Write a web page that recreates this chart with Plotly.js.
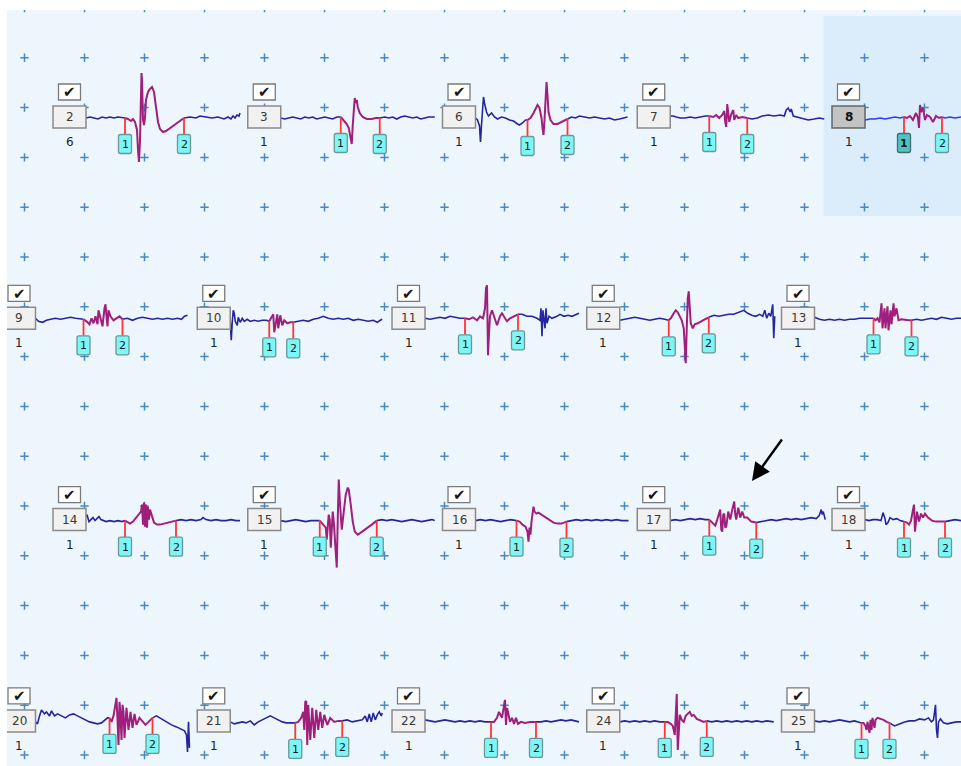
<!DOCTYPE html>
<html>
<head>
<meta charset="utf-8">
<script src="https://cdn.plot.ly/plotly-3.0.1.min.js"></script>
<style>
  html, body { margin: 0; padding: 0; background: #ffffff; }
  #chart { width: 961px; height: 766px; }
</style>
</head>
<body>
<div id="chart"></div>
<script>
// ---- Motor unit templates: id, firing count, marker samples ----
const unitIds    = [2, 3, 6, 7, 8,  9, 10, 11, 12, 13,  14, 15, 16, 17, 18,  20, 21, 22, 24, 25];
const unitCounts = [6, 1, 1, 1, 1,  1, 1, 1, 1, 1,      1, 1, 1, 1, 1,      1, 1, 1, 1, 1];
const marker1    = [39, 60, 52, 39, 39,  48, 39, 40, 49, 59,  39, 39, 41, 39, 39,  74, 65, 66, 45, 47];
const marker2    = [98, 99, 92, 77, 77,  87, 63, 93, 89, 97,  90, 96, 91, 86, 80,  117, 112, 111, 87, 75];
const markerNames = ['1', '2'];
const selectedUnit = 8;
const selectedMarker = 1;

// ---- Template waveforms: [sample, amplitude] ----
const waveU2 = [[0,0],[4,1],[8,0],[12,-1],[16,1],[20,0],[24,1],[28,0],[32,1],[36,0],[39,0],[42,-1],[45,-3],[47,-1],[49,-4],[51,-12],[52,-32],[53,-44],[54,-22],[55,28],[55.5,45],[56,38],[57,-2],[58,-7],[59,0],[60,18],[62,26],[64,29],[66,31],[68,26],[70,10],[72,-4],[74,-11],[77,-14],[80,-13],[84,-10],[89,-6],[94,-3],[98,0],[104,1],[110,0],[114,2],[120,1],[126,0],[132,1],[138,-1],[142,1],[145,-1],[147,2],[149,0],[151,3],[153,2],[154,5]];
const waveU3 = [[0,0],[4,-1],[8,0],[12,1],[16,0],[20,-1],[24,1],[28,0],[32,1],[36,-1],[40,0],[44,1],[48,0],[52,-1],[56,1],[60,1],[63,-2],[66,-6],[68,-10],[70,-20],[71,-26],[72,-7],[73,13],[74,20],[75,15],[76,18],[77,11],[79,5],[82,1],[86,-1],[91,-1],[95,0],[99,0],[104,1],[108,0],[112,1],[116,-1],[120,1],[124,2],[128,1],[132,0],[136,1],[140,-1],[144,0],[148,1],[152,1],[154,1]];
const waveU6 = [[0,0],[2,-2],[4,-8],[5,-24],[6,-7],[7,13],[8,21],[9,15],[11,6],[13,2],[16,5],[19,1],[22,-1],[26,1],[30,0],[34,-2],[38,-3],[42,-6],[44,-7],[47,-5],[50,-2],[52,-2],[55,0],[58,5],[60,10],[62,13],[64,10],[66,0],[67,-10],[68,-17],[69,-2],[70,23],[71,36],[72,23],[73,6],[75,-2],[78,-6],[82,-6],[86,-4],[89,-2],[92,-1],[96,1],[100,0],[104,2],[109,1],[114,0],[119,1],[124,0],[129,-1],[134,0],[139,-2],[144,-1],[149,0],[152,1]];
const waveU7 = [[0,2],[3,2],[6,1],[10,0],[15,0],[20,1],[25,0],[30,1],[35,2],[39,2],[43,1],[46,3],[49,0],[52,3],[54,7],[55,-4],[56,-9],[57,14],[58,6],[59,-4],[61,4],[63,8],[64,-2],[66,3],[68,0],[72,1],[77,0],[82,-1],[87,0],[92,2],[98,3],[104,2],[110,3],[114,2],[116,8],[118,10],[120,6],[121,9],[123,2],[127,1],[132,-1],[138,-2],[144,-1],[149,0],[154,-1]];
const waveU8 = [[0,-2],[5,-1],[10,-1],[15,0],[20,-1],[25,0],[30,1],[35,0],[39,1],[42,0],[45,2],[48,-2],[51,5],[53,0],[54,-10],[55,13],[56,6],[58,10],[60,-2],[62,3],[65,1],[68,-4],[71,2],[74,0],[77,1],[80,0],[85,1],[90,0],[96,1]];
const waveU9 = [[0,1],[3,-2],[7,-3],[11,-1],[15,0],[20,1],[25,0],[30,1],[35,2],[40,1],[45,0],[48,0],[51,-2],[54,-5],[56,1],[58,-4],[60,3],[62,-5],[63,9],[65,1],[67,-7],[69,11],[70,15],[71,3],[72,-7],[73,9],[75,3],[78,-1],[81,1],[84,3],[87,0],[92,1],[97,-1],[102,1],[107,2],[112,1],[117,0],[122,1],[127,0],[132,1],[137,0],[142,1],[146,0],[149,3],[152,4]];
const waveU10 = [[0,-2],[1,-21],[2,-3],[3,9],[4,6],[5,-2],[7,-6],[8,2],[10,-3],[12,1],[14,-2],[17,0],[20,-2],[24,-1],[28,-2],[32,-1],[36,-1],[39,-2],[41,1],[43,5],[44,-13],[46,3],[47,5],[48,-9],[50,4],[52,-6],[54,-1],[57,-4],[60,-3],[63,-3],[68,-2],[73,-1],[78,-2],[83,0],[88,1],[93,3],[98,1],[103,0],[108,1],[113,0],[118,1],[123,-1],[128,0],[133,-1],[138,-2],[143,-1],[147,-3],[150,-1],[152,0]];
const waveU11 = [[0,1],[5,0],[10,1],[15,2],[20,1],[25,3],[30,2],[35,1],[40,1],[44,0],[48,2],[52,-1],[55,3],[58,1],[60,11],[61,31],[62,34],[63,-36],[64,-14],[65,3],[67,9],[69,3],[72,-6],[75,3],[77,6],[80,1],[82,-2],[85,1],[87,2],[90,4],[93,5],[97,5],[102,3],[107,3],[112,1],[115,-1],[116,11],[117,-17],[118,9],[120,-9],[121,11],[122,-4],[124,3],[127,1],[132,3],[135,5],[139,3],[143,4],[147,3],[151,5],[154,6]];
const waveU12 = [[0,-1],[5,0],[10,1],[15,2],[20,1],[25,0],[30,-1],[35,0],[40,1],[45,0],[49,-1],[51,1],[54,6],[56,9],[58,7],[60,3],[62,-1],[64,-9],[65,-24],[66,-44],[67,-9],[68,21],[69,28],[70,16],[71,-4],[73,-9],[75,-5],[78,-4],[81,-2],[85,0],[89,2],[94,4],[99,3],[104,4],[109,5],[114,5],[119,7],[124,9],[128,6],[132,4],[136,3],[140,5],[143,3],[145,9],[147,1],[149,6],[151,3],[153,15],[154,-19],[155,3]];
const waveU13 = [[0,2],[5,0],[10,-1],[15,0],[20,-1],[25,0],[30,-1],[35,0],[40,0],[45,1],[50,1],[55,1],[59,1],[61,-1],[63,1],[65,-3],[67,16],[68,-9],[70,11],[71,-9],[73,13],[74,-11],[76,9],[77,-5],[79,16],[80,3],[82,11],[84,-1],[87,0],[91,-1],[94,-1],[97,-1],[102,0],[107,-1],[112,0],[117,1],[122,0],[127,2],[132,1],[137,0],[142,1],[148,1]];
const waveU14 = [[0,4],[1,6],[3,-1],[5,1],[7,3],[9,0],[11,2],[13,4],[15,1],[17,0],[20,-1],[24,0],[28,-1],[32,0],[36,-1],[39,0],[41,-1],[44,-3],[47,-1],[50,3],[53,7],[55,9],[56,16],[57,-4],[58,18],[59,-6],[60,16],[61,-7],[62,14],[63,1],[64,11],[66,3],[68,-2],[71,-4],[74,-4],[78,-3],[82,-2],[86,-1],[90,0],[95,1],[100,0],[105,1],[110,0],[115,1],[117,3],[120,1],[125,0],[130,1],[135,0],[140,0],[145,1],[150,0],[154,0]];
const waveU15 = [[0,0],[5,-1],[10,0],[15,1],[20,0],[25,-1],[30,0],[35,0],[39,0],[42,-3],[45,-7],[46,-19],[47,-7],[48,6],[49,1],[50,-27],[51,-9],[52,9],[53,-1],[55,-29],[56,-47],[57,1],[58,41],[59,21],[60,1],[61,-9],[63,9],[65,26],[67,33],[68,31],[70,16],[72,-1],[74,-11],[77,-14],[80,-12],[83,-10],[87,-7],[91,-4],[96,0],[101,1],[106,0],[111,1],[116,0],[121,-1],[126,0],[131,1],[136,0],[141,-1],[146,0],[151,1],[154,0]];
const waveU16 = [[0,0],[5,1],[10,0],[15,1],[20,0],[25,-1],[30,0],[35,1],[41,0],[44,-1],[47,-4],[50,-6],[52,-11],[53,-21],[54,-7],[55,-14],[56,-1],[57,11],[58,14],[59,9],[61,7],[63,8],[66,6],[70,4],[74,1],[78,-2],[82,-3],[86,-3],[91,-1],[96,0],[101,1],[106,0],[111,1],[116,0],[121,1],[126,0],[131,1],[136,0],[141,1],[146,0],[153,0]];
const waveU17 = [[0,0],[5,1],[10,0],[15,1],[20,2],[25,1],[30,2],[35,1],[39,1],[42,-2],[45,-5],[47,1],[49,9],[50,11],[51,-9],[52,-11],[53,6],[54,7],[55,-7],[56,-6],[58,9],[60,1],[62,11],[63,17],[64,19],[65,6],[66,1],[68,13],[70,3],[72,9],[74,3],[77,3],[81,-1],[86,-2],[91,-1],[96,0],[101,1],[106,0],[111,1],[116,2],[121,1],[126,2],[131,1],[136,2],[141,3],[146,2],[149,5],[151,11],[152,6],[153,9],[155,1]];
const waveU18 = [[0,1],[4,0],[8,1],[12,1],[16,0],[18,8],[20,2],[21,-4],[23,-2],[25,3],[28,1],[32,2],[35,0],[39,-1],[42,-2],[44,-4],[46,0],[48,11],[49,16],[50,-11],[51,1],[52,9],[54,-1],[56,7],[58,3],[60,7],[63,3],[67,0],[71,-1],[75,-1],[80,-1],[85,0],[90,1],[96,0]];
const waveU20 = [[0,0],[2,-2],[4,6],[6,12],[9,8],[11,10],[14,6],[16,11],[19,6],[22,8],[26,6],[30,4],[34,7],[38,8],[42,6],[46,4],[50,2],[54,0],[58,-1],[62,-2],[66,-1],[69,2],[72,4],[74,4],[76,0],[78,6],[80,22],[81,24],[82,2],[83,-23],[84,20],[85,7],[86,-18],[87,17],[88,10],[89,-16],[91,14],[93,-8],[95,10],[97,-6],[99,8],[101,-3],[104,4],[107,0],[110,-3],[113,0],[117,4],[121,6],[126,3],[131,0],[136,-3],[141,-5],[146,-7],[149,-9],[151,-13],[152,-30],[153,0],[154,-26]];
const waveU21 = [[0,0],[4,-2],[8,-1],[12,0],[16,-1],[20,1],[24,-3],[28,0],[32,2],[36,4],[40,6],[44,4],[48,2],[52,0],[56,-1],[60,-1],[65,-1],[68,0],[71,4],[73,10],[74,-8],[75,20],[76,21],[77,-23],[78,17],[80,-18],[82,14],[84,-16],[86,12],[88,-8],[90,10],[92,-6],[94,7],[97,-3],[100,4],[104,0],[108,1],[112,1],[117,2],[122,0],[127,1],[132,2],[135,6],[137,0],[139,8],[141,0],[143,9],[145,2],[147,7],[149,10],[151,6],[152,9]];
const waveU22 = [[0,2],[5,1],[10,0],[15,1],[20,2],[25,1],[30,0],[35,1],[40,0],[45,1],[50,0],[55,1],[60,0],[66,0],[69,0],[72,4],[74,10],[76,6],[77,4],[79,16],[80,22],[81,-3],[82,14],[83,10],[85,0],[87,4],[89,-2],[91,4],[93,-2],[96,0],[100,-1],[105,0],[111,0],[116,0],[121,1],[126,0],[131,1],[136,2],[141,1],[146,2],[150,1],[154,0]];
const waveU24 = [[0,0],[5,1],[10,0],[15,1],[20,0],[25,1],[30,0],[35,1],[40,0],[45,0],[48,0],[51,-2],[53,-4],[55,-13],[56,7],[57,28],[58,-28],[59,-6],[60,7],[62,2],[64,0],[66,6],[68,8],[70,10],[72,6],[74,7],[77,3],[81,1],[84,0],[87,1],[92,0],[97,1],[102,0],[107,1],[112,0],[117,1],[122,0],[127,1],[132,0],[137,1],[142,0],[147,1],[154,0]];
const waveU25 = [[0,1],[5,0],[10,1],[15,0],[20,1],[25,2],[30,1],[35,0],[40,1],[44,0],[47,-1],[49,-1],[51,-4],[52,-8],[53,0],[54,-6],[55,-11],[56,2],[57,-8],[58,4],[60,-6],[61,2],[63,4],[66,3],[69,2],[72,0],[75,-1],[80,-4],[85,-2],[90,0],[95,1],[100,1],[105,3],[110,2],[114,4],[117,0],[119,2],[120,12],[121,17],[122,-8],[123,-16],[124,0],[126,3],[129,-1],[133,-2],[137,-1],[142,0],[148,0]];

const waves = [waveU2, waveU3, waveU6, waveU7, waveU8,
               waveU9, waveU10, waveU11, waveU12, waveU13,
               waveU14, waveU15, waveU16, waveU17, waveU18,
               waveU20, waveU21, waveU22, waveU24, waveU25];

// ---- Page geometry (pixel-unit axes) ----
const W = 961, H = 766;
const AREA_X0 = 7, AREA_Y0 = 10;
const COLS = 5;
const colPitch = 194.75, rowPitch = 201.3;
const rowBoxLeft = [53, 2.5, 53, 2.5];
const firstBaseline = 118;
const boxW = 33, boxH = 22;
const chkW = 22, chkH = 16;
const tagW = 13, tagH = 19, tagDrop = 16.5;
const gridStepX = 60, gridStepY = 49.8, gridX0 = 24.5, gridY0 = 8;

// ---- Colours ----
const C = {
  area: '#eef6fd', highlight: '#dbecfb', grid: '#4a88c4',
  trace: '#25259d', traceSel: '#2f3cf0', seg: '#a01f7c',
  tick: '#ff3535', tagFill: '#7ff6f6', tagBorder: '#6a9797',
  tagSelFill: '#4fc3c3', tagSelBorder: '#3f6f6f',
  box: '#f1f1f1', boxBorder: '#8a8a8a', boxSel: '#c3c3c3', boxSelBorder: '#666666',
  text: '#3a3a3a'
};
const FONT = 'DejaVu Sans, Verdana, sans-serif';

function rr(x0, y0, x1, y1, r) {
  return `M${x0 + r},${y0} L${x1 - r},${y0} Q${x1},${y0} ${x1},${y0 + r} L${x1},${y1 - r} Q${x1},${y1} ${x1 - r},${y1} L${x0 + r},${y1} Q${x0},${y1} ${x0},${y1 - r} L${x0},${y0 + r} Q${x0},${y0} ${x0 + r},${y0} Z`;
}

const traces = [];
const shapes = [];
const annotations = [];

// background "+" grid
const gx = [], gy = [];
for (let j = 0; gridY0 + j * gridStepY < H + 5; j++) {
  for (let k = 0; gridX0 + k * gridStepX < W; k++) {
    gx.push(gridX0 + k * gridStepX);
    gy.push(gridY0 + j * gridStepY);
  }
}
traces.push({
  type: 'scatter', mode: 'markers', x: gx, y: gy, hoverinfo: 'skip',
  marker: { symbol: 'cross-thin', size: 6, line: { width: 1.5, color: C.grid } },
  cliponaxis: true
});

unitIds.forEach((id, i) => {
  const r = Math.floor(i / COLS), c = i % COLS;
  const boxL = rowBoxLeft[r] + c * colPitch;
  const base = firstBaseline + r * rowPitch;
  const boxCY = base - 1;
  const cx = boxL + boxW / 2;
  const x0 = boxL + boxW;
  const sel = id === selectedUnit;
  const w = waves[i];
  const m = [marker1[i], marker2[i]];

  if (sel) {
    shapes.push({ type: 'rect', layer: 'below', xref: 'x', yref: 'y',
      x0: boxL - 8.5, x1: W + 2, y0: boxCY - 101, y1: boxCY + 99,
      fillcolor: C.highlight, line: { width: 0 } });
  }

  // waveform split into baseline / segment / baseline parts
  const parts = [
    w.filter(p => p[0] <= m[0]),
    w.filter(p => p[0] >= m[0] && p[0] <= m[1]),
    w.filter(p => p[0] >= m[1])
  ];
  parts.forEach((pts, k) => {
    traces.push({
      type: 'scatter', mode: 'lines', hoverinfo: 'skip',
      x: pts.map(p => x0 + p[0]), y: pts.map(p => base - p[1]),
      line: { color: k === 1 ? C.seg : (sel ? C.traceSel : C.trace), width: k === 1 ? 2 : 1.6 }
    });
  });

  // number box
  shapes.push({ type: 'rect', xref: 'x', yref: 'y',
    x0: boxL, x1: boxL + boxW, y0: boxCY - boxH / 2, y1: boxCY + boxH / 2,
    fillcolor: sel ? C.boxSel : C.box,
    line: { color: sel ? C.boxSelBorder : C.boxBorder, width: 1.5 } });
  annotations.push({ x: Math.max(cx, AREA_X0 + 12), y: boxCY, xref: 'x', yref: 'y', showarrow: false,
    text: sel ? `<b>${id}</b>` : String(id),
    font: { family: FONT, size: 12, color: sel ? '#111' : C.text } });

  // checkbox
  const ccy = boxCY - 25;
  shapes.push({ type: 'rect', xref: 'x', yref: 'y',
    x0: cx - chkW / 2, x1: cx + chkW / 2, y0: ccy - chkH / 2, y1: ccy + chkH / 2,
    fillcolor: '#ffffff', line: { color: '#7a7a7a', width: 1.3 } });
  annotations.push({ x: cx, y: ccy + 0.5, xref: 'x', yref: 'y', showarrow: false,
    text: '<b>\u2714</b>', font: { family: FONT, size: 15, color: '#161616' } });

  // firing count
  annotations.push({ x: cx, y: boxCY + 25, xref: 'x', yref: 'y', showarrow: false,
    text: String(unitCounts[i]), font: { family: FONT, size: 12, color: '#222' } });

  // markers 1 and 2
  m.forEach((t, k) => {
    const pt = w.find(p => p[0] === t);
    const yw = base - pt[1];
    const xm = x0 + t;
    const top = yw + tagDrop;
    const isSel = sel && (k + 1) === selectedMarker;
    shapes.push({ type: 'line', xref: 'x', yref: 'y', x0: xm, x1: xm, y0: yw, y1: top,
      line: { color: C.tick, width: 1.8 } });
    shapes.push({ type: 'path', xref: 'x', yref: 'y',
      path: rr(xm - tagW / 2, top, xm + tagW / 2, top + tagH, 2),
      fillcolor: isSel ? C.tagSelFill : C.tagFill,
      line: { color: isSel ? C.tagSelBorder : C.tagBorder, width: 1.3 } });
    annotations.push({ x: xm, y: top + tagH / 2 + 0.5, xref: 'x', yref: 'y', showarrow: false,
      text: isSel ? `<b>${markerNames[k]}</b>` : markerNames[k],
      font: { family: FONT, size: 11, color: '#1a1a1a' } });
  });
});

// pointer arrow
annotations.push({ x: 752, y: 481, ax: 783, ay: 438, axref: 'x', ayref: 'y', xref: 'x', yref: 'y',
  showarrow: true, text: '', arrowhead: 2, arrowsize: 1.5, arrowwidth: 2.4, arrowcolor: '#000000', standoff: 0 });

const layout = {
  width: W, height: H,
  margin: { l: 0, r: 0, t: 0, b: 0, pad: 0 },
  paper_bgcolor: '#ffffff',
  plot_bgcolor: C.area,
  showlegend: false,
  xaxis: { range: [AREA_X0, W], domain: [AREA_X0 / W, 1], visible: false, fixedrange: true },
  yaxis: { range: [H, AREA_Y0], domain: [0, 1 - AREA_Y0 / H], visible: false, fixedrange: true },
  shapes: shapes,
  annotations: annotations
};

Plotly.newPlot('chart', traces, layout, { staticPlot: true, displayModeBar: false });
</script>
</body>
</html>
